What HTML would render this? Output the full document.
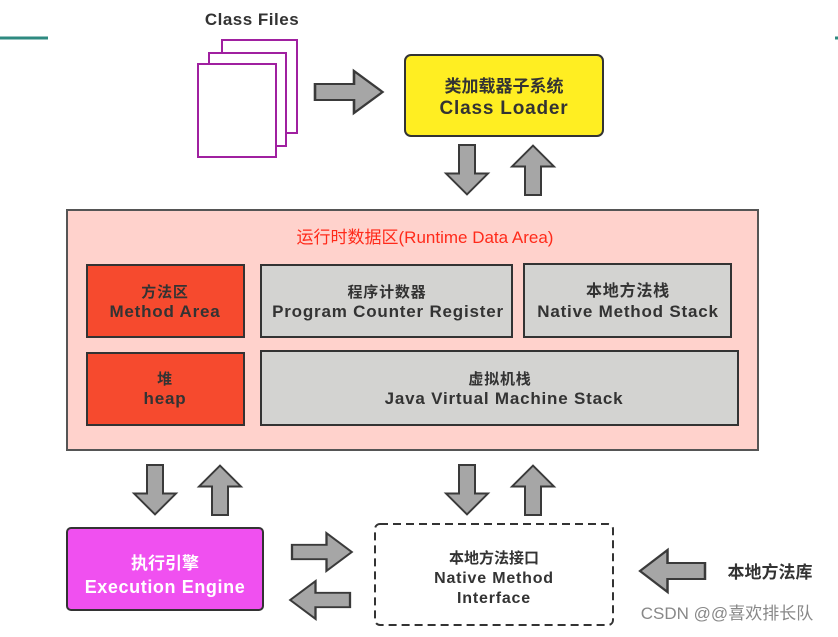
<!DOCTYPE html>
<html><head><meta charset="utf-8"><style>
body{margin:0;background:#fff;width:838px;height:632px;overflow:hidden;font-family:"Liberation Sans","Noto Sans CJK SC",sans-serif}
</style></head><body>
<svg width="838" height="632" xmlns="http://www.w3.org/2000/svg" font-family="Liberation Sans, Noto Sans CJK SC, sans-serif" font-weight="bold">
<defs>
<polygon id="ar" points="0,-8 30,-8 30,-21 52,0 30,21 30,8 0,8" fill="#a6a6a6" stroke="#3a3a3a" stroke-width="2"/>
</defs>
<line x1="0" y1="38" x2="48" y2="38" stroke="#2e8a80" stroke-width="3"/>
<line x1="835" y1="38" x2="838" y2="38" stroke="#2e8a80" stroke-width="3"/>
<text x="252" y="25" font-size="17" fill="#333" text-anchor="middle" letter-spacing="0.5">Class Files</text>
<rect x="222" y="40" width="75" height="93" fill="#fff" stroke="#a020a0" stroke-width="2"/>
<rect x="209" y="53" width="77" height="93" fill="#fff" stroke="#a020a0" stroke-width="2"/>
<rect x="198" y="64" width="78" height="93" fill="#fff" stroke="#a020a0" stroke-width="2"/>
<use href="#ar" transform="translate(315,92) scale(1.3,1)"/>
<rect x="405" y="55" width="198" height="81" rx="6" fill="#ffee22" stroke="#333" stroke-width="2"/>
<text x="504" y="92" font-size="17" fill="#333" text-anchor="middle">类加载器子系统</text>
<text x="504" y="114" font-size="19" fill="#333" text-anchor="middle" letter-spacing="0.8">Class Loader</text>
<use href="#ar" transform="translate(467,145) rotate(90) scale(0.95,1)"/>
<use href="#ar" transform="translate(533,195) rotate(-90) scale(0.95,1)"/>
<rect x="67" y="210" width="691" height="240" fill="#ffd2cc" stroke="#555" stroke-width="2"/>
<text x="425" y="243" font-size="17" fill="#ff2a1a" font-weight="normal" text-anchor="middle">运行时数据区(Runtime Data Area)</text>
<g font-size="17" fill="#333" text-anchor="middle" letter-spacing="0.8">
<rect x="87" y="265" width="157" height="72" fill="#f64a2e" stroke="#333" stroke-width="2"/>
<text x="165" y="297" font-size="15">方法区</text>
<text x="165" y="317">Method Area</text>
<rect x="261" y="265" width="251" height="72" fill="#d3d3d1" stroke="#333" stroke-width="2"/>
<text x="387" y="297" font-size="15">程序计数器</text>
<text x="388" y="317">Program Counter Register</text>
<rect x="524" y="264" width="207" height="73" fill="#d3d3d1" stroke="#333" stroke-width="2"/>
<text x="628" y="296" font-size="16">本地方法栈</text>
<text x="628" y="317">Native Method Stack</text>
<rect x="87" y="353" width="157" height="72" fill="#f64a2e" stroke="#333" stroke-width="2"/>
<text x="165" y="384" font-size="15">堆</text>
<text x="165" y="404">heap</text>
<rect x="261" y="351" width="477" height="74" fill="#d3d3d1" stroke="#333" stroke-width="2"/>
<text x="500" y="384" font-size="15">虚拟机栈</text>
<text x="504" y="404">Java Virtual Machine Stack</text>
</g>
<use href="#ar" transform="translate(155,465) rotate(90) scale(0.95,1)"/>
<use href="#ar" transform="translate(220,515) rotate(-90) scale(0.95,1)"/>
<use href="#ar" transform="translate(467,465) rotate(90) scale(0.95,1)"/>
<use href="#ar" transform="translate(533,515) rotate(-90) scale(0.95,1)"/>
<rect x="67" y="528" width="196" height="82" rx="4" fill="#f050f0" stroke="#333" stroke-width="2"/>
<text x="165" y="569" font-size="17" fill="#fff" text-anchor="middle">执行引擎</text>
<text x="165" y="593" font-size="18" fill="#fff" text-anchor="middle" letter-spacing="0.6">Execution Engine</text>
<rect x="375" y="524" width="238" height="101" rx="5" fill="#fff" stroke="#333" stroke-width="2" stroke-dasharray="8,5"/>
<text x="494" y="563" font-size="15" fill="#333" text-anchor="middle">本地方法接口</text>
<text x="494" y="583" font-size="16" fill="#333" text-anchor="middle" letter-spacing="0.8">Native Method</text>
<text x="494" y="603" font-size="16" fill="#333" text-anchor="middle" letter-spacing="0.8">Interface</text>
<use href="#ar" transform="translate(292,552) scale(1.15,0.9)"/>
<use href="#ar" transform="translate(350,600) rotate(180) scale(1.15,0.9)"/>
<use href="#ar" transform="translate(705,571) rotate(180) scale(1.25,1)"/>
<text x="770" y="578" font-size="17" fill="#333" text-anchor="middle">本地方法库</text>
<text x="727" y="619" font-size="17" fill="#888" font-weight="normal" text-anchor="middle">CSDN @@喜欢排长队</text>
</svg>
</body></html>
